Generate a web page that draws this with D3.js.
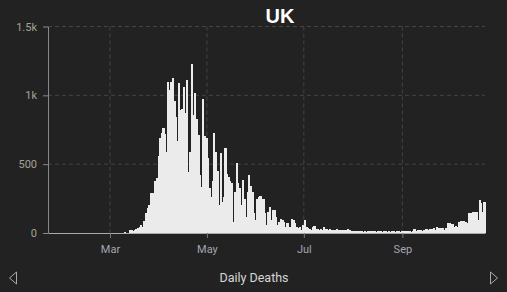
<!DOCTYPE html>
<html>
<head>
<meta charset="utf-8">
<script src="https://cdn.jsdelivr.net/npm/d3@7"></script>
<style>
  html, body { margin: 0; padding: 0; background: #222222; }
  svg { display: block; }
</style>
</head>
<body>
<div id="chart-container"></div>
<script>
// Daily deaths, one array per month (first value = 1st of the month)
const marDeaths = [0,0,0,0,1,1,0,1,1,6,3,3,20,22,18,24,30,34,40,60,42,90,145,185,200,290,290,290,380,400,560];
const aprDeaths = [690,730,760,720,590,1100,1040,1100,1125,960,845,665,1090,890,900,1060,870,1110,440,590,1225,857,1015,830,710,420,336,975,705,690];
const mayDeaths = [545,330,260,380,726,590,450,200,580,227,260,620,430,410,380,360,80,300,508,360,330,200,385,250,118,300,421,340,300,143,94];
const junDeaths = [250,265,270,250,250,143,58,150,190,94,167,167,119,60,80,100,94,82,46,70,40,45,99,94,70,46,34,40,22,60];
const julDeaths = [94,46,34,27,22,46,51,30,28,25,30,20,46,31,26,25,28,22,20,24,28,22,25,24,20,22,21,27,25,18,17];
const augDeaths = [14,12,17,15,12,16,10,12,10,13,15,12,11,18,10,11,13,12,10,11,15,10,11,10,12,11,10,11,12,10,12];
const sepDeaths = [12,14,17,12,15,10,12,30,18,20,22,20,17,22,31,26,24,27,30,34,25,41,37,38,34,34,22,35,71,75];
const octDeaths = [66,66,46,50,40,82,90,85,85,80,75,143,148,148,150,155,155,94,240,215,150,225];

const seriesStart = "2020-03-01";
const axisStart = "2020-01-22";
const axisEnd = "2020-10-23";
const yTicks = [0, 500, 1000, 1500];

const allDeaths = [].concat(marDeaths, aprDeaths, mayDeaths, junDeaths, julDeaths, augDeaths, sepDeaths, octDeaths);
const start = new Date(seriesStart + "T00:00:00Z");
const data = allDeaths.map((v, i) => ({ date: d3.utcDay.offset(start, i), value: v }));

const width = 507;
const height = 292;
const margin = { top: 26.5, right: 22, bottom: 59, left: 48 };

const svg = d3.select("#chart-container")
  .append("svg")
  .attr("width", width)
  .attr("height", height);

const x = d3.scaleUtc()
  .domain([new Date(axisStart + "T00:00:00Z"), new Date(axisEnd + "T00:00:00Z")])
  .range([margin.left, width - margin.right]);

const y = d3.scaleLinear()
  .domain([0, 1500])
  .range([height - margin.bottom, margin.top]);

const monthTicks = x.ticks(d3.utcMonth.every(2));

// grid lines
svg.append("g")
  .selectAll("line")
  .data(yTicks.slice(1))
  .join("line")
  .attr("x1", margin.left)
  .attr("x2", width - margin.right)
  .attr("y1", d => y(d))
  .attr("y2", d => y(d))
  .attr("stroke", "#444")
  .attr("stroke-dasharray", "4,3");

svg.append("g")
  .selectAll("line")
  .data(monthTicks)
  .join("line")
  .attr("x1", d => x(d))
  .attr("x2", d => x(d))
  .attr("y1", margin.top)
  .attr("y2", height - margin.bottom)
  .attr("stroke", "#444")
  .attr("stroke-dasharray", "4,3");

// bars (slight overlap + crisp edges so neighbours read as one solid shape)
svg.append("g")
  .attr("shape-rendering", "crispEdges")
  .selectAll("rect")
  .data(data)
  .join("rect")
  .attr("x", d => x(d.date))
  .attr("width", d => x(d3.utcDay.offset(d.date, 1)) - x(d.date) + 0.6)
  .attr("y", d => y(d.value))
  .attr("height", d => y(0) - y(d.value))
  .attr("fill", "#ebebeb");

// axes
const xAxis = svg.append("g")
  .attr("transform", `translate(0,${height - margin.bottom})`)
  .call(d3.axisBottom(x).tickValues(monthTicks).tickFormat(d3.utcFormat("%b")).tickSize(5).tickSizeOuter(0));
xAxis.select(".domain").attr("stroke", "#aaa");
xAxis.selectAll(".tick line").attr("stroke", "#777");
xAxis.selectAll("text")
  .attr("fill", "#a4a4b2")
  .attr("dy", "1.1em")
  .style("font-family", "Roboto, sans-serif")
  .style("font-size", "11px");

const yAxis = svg.append("g")
  .attr("transform", `translate(${margin.left},0)`)
  .call(d3.axisLeft(y).tickValues(yTicks).tickFormat(d3.format("~s")).tickSize(5).tickSizeOuter(0));
yAxis.select(".domain").attr("stroke", "#888");
yAxis.selectAll(".tick line").attr("stroke", "#888");
yAxis.selectAll("text")
  .attr("fill", "#a2a296")
  .attr("x", -11)
  .style("font-family", "Roboto, sans-serif")
  .style("font-size", "11px");

// title
svg.append("text")
  .attr("x", 280)
  .attr("y", 23)
  .attr("text-anchor", "middle")
  .attr("fill", "#ffffff")
  .style("font-family", "'Liberation Sans', Arial, sans-serif")
  .style("font-weight", "bold")
  .style("font-size", "20px")
  .text("UK");

// bottom label
svg.append("text")
  .attr("x", 254)
  .attr("y", 282)
  .attr("text-anchor", "middle")
  .attr("fill", "#d6d6d6")
  .style("font-family", "Roboto, sans-serif")
  .style("font-size", "12.5px")
  .text("Daily Deaths");

// nav arrows
svg.append("path")
  .attr("d", "M16.5,272 L9.5,278 L16.5,284 Z")
  .attr("fill", "none")
  .attr("stroke", "#aaa");

svg.append("path")
  .attr("d", "M490.5,272 L497.5,278 L490.5,284 Z")
  .attr("fill", "none")
  .attr("stroke", "#aaa");
</script>
</body>
</html>
